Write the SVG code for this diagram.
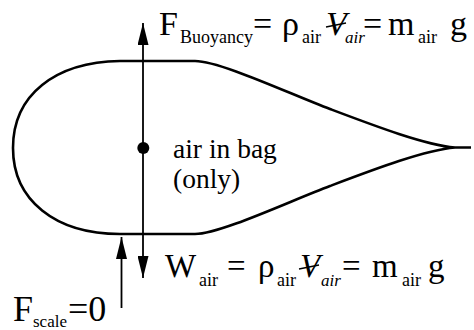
<svg xmlns="http://www.w3.org/2000/svg" width="474" height="330" viewBox="0 0 474 330">
  <style>
    .t { font-family: 'Liberation Serif', 'DejaVu Serif', 'Times New Roman', Times, 'Nimbus Roman', 'Nimbus Roman No9 L', FreeSerif, 'Noto Serif', Tinos, serif; fill: #000; }
    .big { font-size: 34px; }
    .mid { font-size: 33px; }
    .sub { font-size: 18px; }
    .isub { font-size: 17px; font-style: italic; }
    .it { font-style: italic; }
    .lbl { font-size: 27.5px; }
    .arrow { stroke: #000; stroke-width: 1.8; fill: none; marker-end: url(#head); }
    .strike { stroke: #000; stroke-width: 1.4; }
  </style>
  <defs>
    <marker id="head" viewBox="0 0 22 11" refX="22" refY="5.5" markerWidth="22" markerHeight="11" markerUnits="userSpaceOnUse" orient="auto">
      <path d="M0,0 L22,5.5 L0,11 Z" fill="#000"/>
    </marker>
  </defs>
  <rect width="474" height="330" fill="#fff"/>

  <g id="bag">
    <path d="M 455,147.5 C 425,145 375,126 330,109 C 290,94 220,61 195,61 L 120,61 C 55,62 13,95 13,148 C 13,200 55,234 120,234 L 195,234 C 220,234 290,201 330,186 C 375,169 425,150 455,147.5 Z M 455,147.5 L 471,147.5" fill="none" stroke="#000" stroke-width="2.6" stroke-linejoin="round"/>
  </g>

  <g id="connectors">
    <line class="arrow" x1="143" y1="148" x2="143" y2="23"/>
    <line class="arrow" x1="143" y1="148" x2="143" y2="278"/>
    <line class="arrow" x1="121.5" y1="308" x2="121.5" y2="237"/>
  </g>

  <g id="centroid">
    <circle cx="143.3" cy="148" r="6" fill="#000"/>
    <text class="t lbl" x="173" y="158">air in bag</text>
    <text class="t lbl" x="173" y="188">(only)</text>
  </g>

  <g id="buoyancy">
    <text class="t">
      <tspan class="big" x="159" y="34.5">F</tspan>
      <tspan class="sub" x="180" y="43">Buoyancy</tspan>
      <tspan class="big" x="253" y="34.5">=</tspan>
      <tspan class="big" x="282" y="34.5">ρ</tspan>
      <tspan class="sub" x="302" y="43">air</tspan>
      <tspan class="big it" x="326" y="34.5">V</tspan>
      <tspan class="isub" x="345" y="43">air</tspan>
      <tspan class="big" x="363" y="34.5">=</tspan>
      <tspan class="big" x="388" y="34.5">m</tspan>
      <tspan class="sub" x="418" y="43">air</tspan>
      <tspan class="big" x="450" y="34.5">g</tspan>
    </text>
    <line class="strike" x1="326" y1="27" x2="346" y2="23"/>
  </g>

  <g id="weight">
    <text class="t">
      <tspan class="mid" x="165" y="277">W</tspan>
      <tspan class="sub" x="199" y="286">air</tspan>
      <tspan class="mid" x="227" y="277">=</tspan>
      <tspan class="mid" x="258" y="277">ρ</tspan>
      <tspan class="sub" x="277" y="286">air</tspan>
      <tspan class="mid it" x="300" y="277">V</tspan>
      <tspan class="isub" x="321" y="286">air</tspan>
      <tspan class="mid" x="342" y="277">=</tspan>
      <tspan class="mid" x="372" y="277">m</tspan>
      <tspan class="sub" x="402" y="286">air</tspan>
      <tspan class="mid" x="428" y="277">g</tspan>
    </text>
    <line class="strike" x1="299" y1="269" x2="319" y2="265"/>
  </g>

  <g id="scale">
    <text class="t">
      <tspan style="font-size:36px" x="13" y="321">F</tspan>
      <tspan style="font-size:17px" x="33" y="327">scale</tspan>
      <tspan style="font-size:36px" x="68" y="321">=0</tspan>
    </text>
  </g>
</svg>
